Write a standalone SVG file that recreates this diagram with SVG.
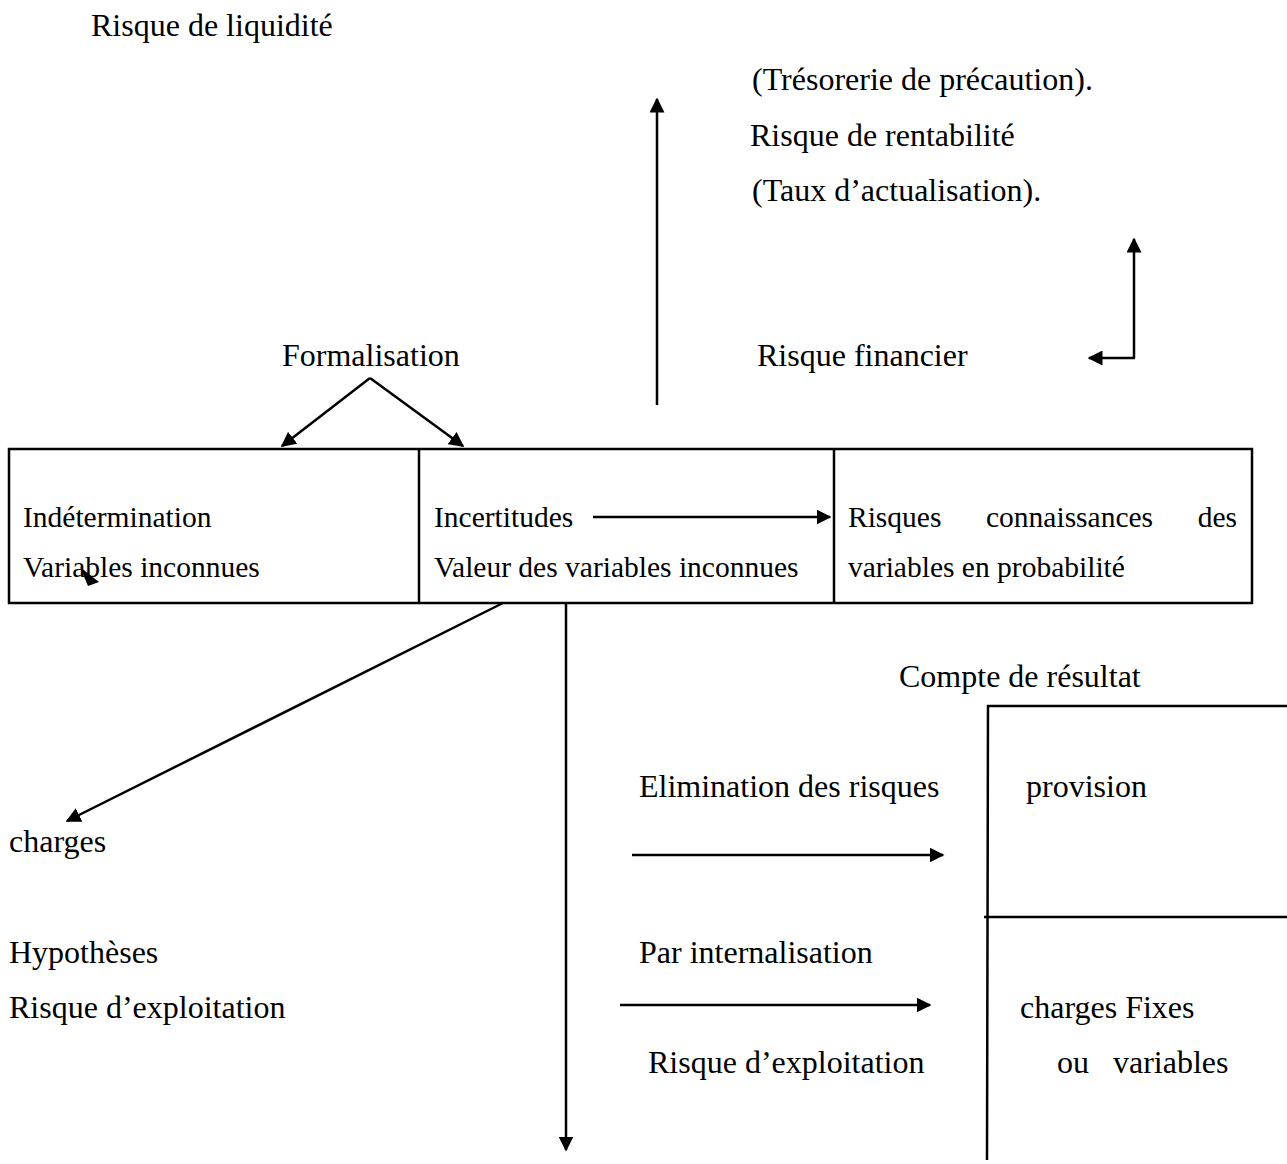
<svg xmlns="http://www.w3.org/2000/svg" width="1287" height="1164" viewBox="0 0 1287 1164">
  <style>
    text { font-family: "Liberation Serif", "Times New Roman", serif; font-size: 32px; fill: #000; }
    .cell text { font-size: 29.5px; }
    .ln { stroke: #000; stroke-width: 2.5; fill: none; }
    .arr { stroke: #000; stroke-width: 2.5; fill: none; marker-end: url(#head); }
  </style>
  <defs>
    <marker id="head" viewBox="0 0 10 10" refX="9" refY="5" markerWidth="6" markerHeight="6" orient="auto" markerUnits="strokeWidth">
      <path d="M0,0 L10,5 L0,10 z" fill="#000"/>
    </marker>
  </defs>
  <rect width="1287" height="1164" fill="#fff"/>

  <!-- free labels -->
  <g id="top-labels">
    <text x="91" y="36">Risque de liquidité</text>
    <text x="752" y="90">(Trésorerie de précaution).</text>
    <text x="750" y="146">Risque de rentabilité</text>
    <text x="752" y="201">(Taux d’actualisation).</text>
    <text x="282" y="366">Formalisation</text>
    <text x="757" y="366">Risque financier</text>
  </g>

  <!-- main three-cell box -->
  <g id="box-main">
    <rect x="9" y="449" width="1243" height="154" class="ln"/>
    <line x1="419" y1="449" x2="419" y2="603" class="ln"/>
    <line x1="834" y1="449" x2="834" y2="603" class="ln"/>
  </g>
  <g id="cell-indetermination" class="cell">
    <text x="23" y="527">Indétermination</text>
    <text x="23" y="577">Variables inconnues</text>
  </g>
  <g id="cell-incertitudes" class="cell">
    <text x="434" y="527">Incertitudes</text>
    <text x="434" y="577">Valeur des variables inconnues</text>
  </g>
  <g id="cell-risques" class="cell">
    <text x="848" y="527">Risques</text>
    <text x="986" y="527">connaissances</text>
    <text x="1237" y="527" text-anchor="end">des</text>
    <text x="848" y="577">variables en probabilité</text>
  </g>

  <!-- lower left labels -->
  <g id="left-labels">
    <text x="9" y="852">charges</text>
    <text x="9" y="963">Hypothèses</text>
    <text x="9" y="1018">Risque d’exploitation</text>
  </g>

  <!-- middle labels -->
  <g id="mid-labels">
    <text x="639" y="797">Elimination des risques</text>
    <text x="639" y="963">Par internalisation</text>
    <text x="648" y="1073">Risque d’exploitation</text>
  </g>

  <!-- income statement -->
  <g id="compte-resultat">
    <text x="899" y="687">Compte de résultat</text>
    <polyline points="1287,706 988,706 987,1160" class="ln"/>
    <line x1="984" y1="917" x2="1287" y2="917" class="ln"/>
    <text x="1026" y="797">provision</text>
    <text x="1020" y="1018">charges Fixes</text>
    <text x="1057" y="1073" xml:space="preserve">ou   variables</text>
  </g>

  <!-- connectors -->
  <g id="connectors">
    <line x1="370" y1="378" x2="282" y2="446" class="arr"/>
    <line x1="370" y1="378" x2="463" y2="446" class="arr"/>
    <line x1="657" y1="405" x2="657" y2="99" class="arr"/>
    <line x1="1134" y1="358" x2="1134" y2="239" class="arr"/>
    <line x1="1135" y1="358" x2="1089" y2="358" class="arr"/>
    <line x1="593" y1="517" x2="830" y2="517" class="arr"/>
    <path d="M80,567 L99,582 L88,586 z" fill="#000"/>
    <line x1="503" y1="603" x2="67" y2="821" class="arr"/>
    <line x1="566" y1="603" x2="566" y2="1150" class="arr"/>
    <line x1="632" y1="855" x2="943" y2="855" class="arr"/>
    <line x1="620" y1="1005" x2="930" y2="1005" class="arr"/>
  </g>
</svg>
